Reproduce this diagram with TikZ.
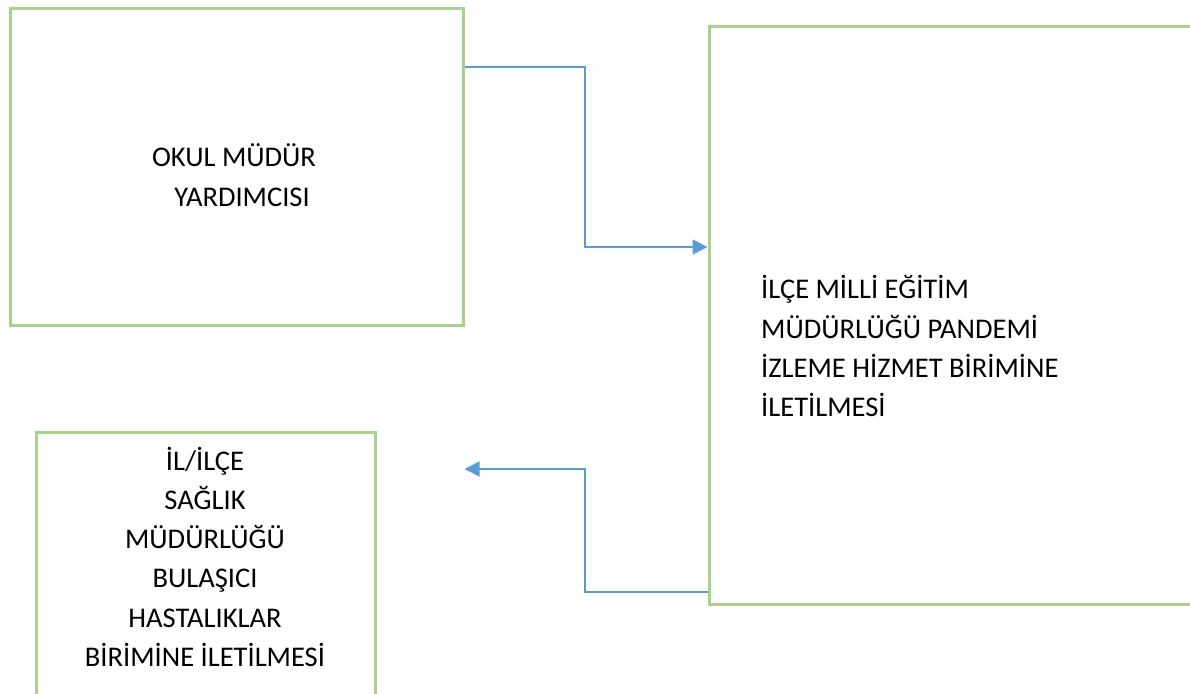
\documentclass[tikz,border=0pt]{standalone}
\usepackage{fontspec}
\setmainfont{Carlito}
\usetikzlibrary{arrows.meta}
\definecolor{kutuyesil}{RGB}{169,209,142}
\definecolor{okmavi}{RGB}{91,155,213}
\tikzset{
  kutu/.style={draw=kutuyesil, line width=3pt, inner sep=0pt},
  yazi/.style={font=\fontsize{28.5}{39.3}\selectfont, inner sep=0pt},
  ok/.style={draw=okmavi, line width=1.5pt, -{Triangle[length=15pt,width=15pt]}}
}
\begin{document}
\begin{tikzpicture}[x=1pt,y=-1pt]
  \useasboundingbox (0,0) rectangle (1190,693);
  \clip (0,0) rectangle (1190,693);
  \node[kutu, minimum width=453pt, minimum height=316.5pt] (mudur) at (236.5,166.75) {};
  \node[kutu, minimum width=591pt, minimum height=577.5pt] (ilce)  at (1004.5,315.75) {};
  \node[kutu, minimum width=339pt, minimum height=328pt]   (saglik) at (205.5,596) {};
  \node[yazi, align=center, anchor=base] (mudurYazi) at (234,206) {OKUL MÜDÜR\\\hspace*{16pt}YARDIMCISI};
  \node[yazi, align=left, anchor=base west] (ilceYazi) at (761,416.7) {İLÇE MİLLİ EĞİTİM\\MÜDÜRLÜĞÜ PANDEMİ\\İZLEME HİZMET BİRİMİNE\\İLETİLMESİ};
  \node[yazi, align=center, anchor=base] (saglikYazi) at (205,666.5) {İL/İLÇE\\SAĞLIK\\MÜDÜRLÜĞÜ\\BULAŞICI\\HASTALIKLAR\\BİRİMİNE İLETİLMESİ};
  \draw[ok] (mudur.east |- 0,67) -- (585,67) |- (ilce.west |- 0,247);
  \draw[ok] (ilce.west |- 0,592) -| (585,469) -- (mudur.east |- 0,469);
\end{tikzpicture}
\end{document}
